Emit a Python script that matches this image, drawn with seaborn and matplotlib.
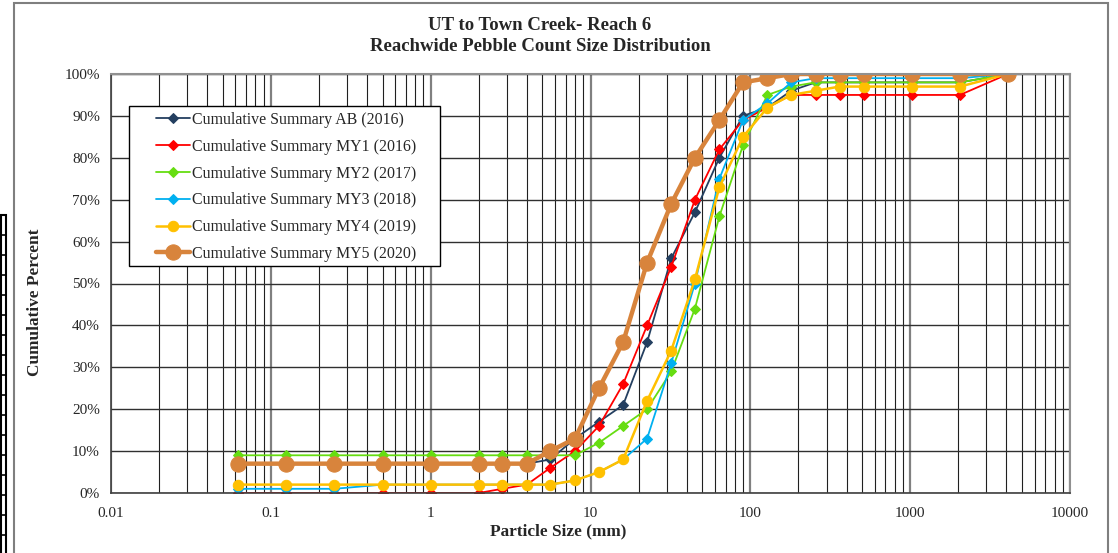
import numpy as np
import pandas as pd
import matplotlib
matplotlib.use("Agg")
import matplotlib.pyplot as plt
import matplotlib.ticker as mticker
from matplotlib.patches import Rectangle
from matplotlib.lines import Line2D
import seaborn as sns

# tamanhos das peneiras (mm)
sizes = [0.062, 0.125, 0.25, 0.5, 1, 2, 2.8, 4, 5.6, 8, 11.3, 16, 22.6, 32,
         45, 64, 90, 128, 180, 256, 362, 512, 1024, 2048, 4096]

# percentuais acumulados de cada levantamento
ab_2016 = [7, 7, 7, 7, 7, 7, 7, 7, 8, 13, 17, 21, 36, 56, 67, 80, 90, 92, 96, 98, 98, 98, 98, 98, 100]
my1_2016 = [0, 0, 0, 0, 0, 0, 1, 2, 6, 10, 16, 26, 40, 54, 70, 82, 89, 92, 95, 95, 95, 95, 95, 95, 100]
my2_2017 = [9, 9, 9, 9, 9, 9, 9, 9, 9, 9, 12, 16, 20, 29, 44, 66, 83, 95, 97, 98, 98, 98, 98, 98, 100]
my3_2018 = [1, 1, 1, 2, 2, 2, 2, 2, 2, 3, 5, 8, 13, 31, 50, 75, 89, 93, 98, 99, 99, 99, 99, 99, 100]
my4_2019 = [2, 2, 2, 2, 2, 2, 2, 2, 2, 3, 5, 8, 22, 34, 51, 73, 85, 92, 95, 96, 97, 97, 97, 97, 100]
my5_2020 = [7, 7, 7, 7, 7, 7, 7, 7, 10, 13, 25, 36, 55, 69, 80, 89, 98, 99, 100, 100, 100, 100, 100, 100, 100]

labels = ["Cumulative Summary AB (2016)", "Cumulative Summary MY1 (2016)",
          "Cumulative Summary MY2 (2017)", "Cumulative Summary MY3 (2018)",
          "Cumulative Summary MY4 (2019)", "Cumulative Summary MY5 (2020)"]
series = [ab_2016, my1_2016, my2_2017, my3_2018, my4_2019, my5_2020]

# estilo de cada linha
cores = ["#243F60", "#FF0000", "#66DD11", "#00B0F0", "#FFC000", "#D8843C"]
marcadores = ["D", "D", "D", "D", "o", "o"]
tam_marc = [5, 5, 5, 5, 7.5, 11]
larguras = [1.3, 1.3, 1.3, 1.3, 1.8, 3.2]

sns.set_style("white")
plt.rcParams["font.family"] = ["Liberation Serif", "DejaVu Serif"]

fig = plt.figure(figsize=(11.18, 5.53), dpi=100)
ax = fig.add_axes([111 / 1118, 1 - 493 / 553, 959 / 1118, 419 / 553])

for vals, lab, c, m, ms, lw in zip(series, labels, cores, marcadores, tam_marc, larguras):
    sns.lineplot(x=sizes, y=vals, ax=ax, color=c, marker=m, markersize=ms,
                 markeredgecolor=c, linewidth=lw, label=lab, sort=False)

ax.set_xscale("log")
ax.set_xlim(0.01, 10000)
ax.set_ylim(0, 100)

# grade do gráfico
ax.xaxis.set_major_locator(mticker.LogLocator(base=10, numticks=10))
ax.xaxis.set_minor_locator(mticker.LogLocator(base=10, subs=np.arange(2, 10), numticks=20))
ax.xaxis.set_major_formatter(mticker.FuncFormatter(lambda v, p: "%g" % v))
ax.xaxis.set_minor_formatter(mticker.NullFormatter())
ax.yaxis.set_major_locator(mticker.MultipleLocator(10))
ax.yaxis.set_major_formatter(mticker.PercentFormatter(100, decimals=0))

ax.grid(which="major", axis="x", color="#808080", linewidth=1.6, zorder=0)
ax.grid(which="minor", axis="x", color="#202020", linewidth=0.8, zorder=0)
ax.grid(which="major", axis="y", color="#303030", linewidth=1.0, zorder=0)
ax.set_axisbelow(True)

ax.tick_params(axis="both", which="major", direction="out", length=6, width=1,
               color="#404040", labelsize=11, pad=2)
ax.tick_params(axis="x", which="minor", length=0)
ax.tick_params(axis="x", which="major", pad=4)

for lado in ["top", "right"]:
    ax.spines[lado].set_color("#909090")
    ax.spines[lado].set_linewidth(1.5)
for lado in ["left", "bottom"]:
    ax.spines[lado].set_color("#404040")
    ax.spines[lado].set_linewidth(1.2)

ax.set_xlabel("Particle Size (mm)", fontsize=12.4, fontweight="bold")
ax.xaxis.set_label_coords((558 - 111) / 959, (493 - 523) / 419)
ax.set_ylabel("Cumulative Percent", fontsize=12.4, fontweight="bold")
ax.yaxis.set_label_coords((43 - 111) / 959, (493 - 302) / 419)
fig.text(540 / 1118, 1 - 25 / 553, "UT to Town Creek- Reach 6", ha="center", va="center",
         fontsize=13.5, fontweight="bold")
fig.text(540 / 1118, 1 - 47 / 553, "Reachwide Pebble Count Size Distribution", ha="center",
         va="center", fontsize=13.5, fontweight="bold")

# caixa da legenda desenhada à parte para controlar as margens
ax.add_patch(Rectangle(((129 - 111) / 959, (493 - 266) / 419), 311 / 959, 160 / 419,
                       transform=ax.transAxes, facecolor="white", edgecolor="black",
                       linewidth=1.0, zorder=4))
leg = ax.legend(loc="upper left", bbox_to_anchor=((156 - 111) / 959, (493 - 112) / 419),
                fontsize=11.4, frameon=False, borderpad=0, labelspacing=0.68,
                handlelength=2.15, handletextpad=0.1, borderaxespad=0)
leg.set_zorder(5)

# moldura externa do gráfico
fig.add_artist(Rectangle((14 / 1118, -0.01), (1108 - 14) / 1118, 1 - 3 / 553 + 0.01,
                         transform=fig.transFigure, fill=False, edgecolor="#7f7f7f",
                         linewidth=1.5))
# pedaço da tabela à esquerda
fig.add_artist(Rectangle((0.5 / 1118, -0.01), 5 / 1118, 1 - 215 / 553 + 0.01,
                         transform=fig.transFigure, fill=False, edgecolor="black",
                         linewidth=1.5))
for yy in range(235, 553, 20):
    fig.add_artist(Line2D([0, 5 / 1118], [1 - yy / 553] * 2, transform=fig.transFigure,
                          color="black", linewidth=1.2))

fig.savefig("out.png", dpi=100)
